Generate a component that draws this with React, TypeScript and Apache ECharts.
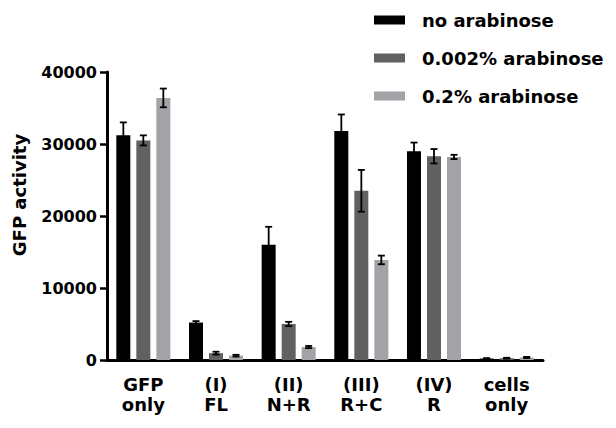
import React, { useEffect, useRef } from "react";
import * as echarts from "echarts";

const categories = ["GFP\nonly", "(I)\nFL", "(II)\nN+R", "(III)\nR+C", "(IV)\nR", "cells\nonly"];
const seriesNames = ["no arabinose", "0.002% arabinose", "0.2% arabinose"];
const noArabinose = [31200, 5200, 16000, 31800, 29000, 200];
const noArabinoseErr = [1800, 200, 2500, 2300, 1200, 60];
const lowArabinose = [30500, 950, 5000, 23500, 28300, 250];
const lowArabinoseErr = [700, 200, 300, 2900, 1000, 60];
const highArabinose = [36400, 600, 1800, 13900, 28200, 350];
const highArabinoseErr = [1300, 120, 150, 600, 300, 80];
const yTicks = [0, 10000, 20000, 30000, 40000];
const colors = ["#000000", "#616161", "#a2a2a7"];

const FONT = "DejaVu Sans";

function errorSeries(values: number[], errs: number[], offset: number) {
  return {
    type: "custom",
    z: 5,
    silent: true,
    data: values.map((v, i) => [i, v, errs[i]]),
    renderItem: (params: any, api: any) => {
      const i = api.value(0);
      const v = api.value(1);
      const e = api.value(2);
      const top = api.coord([i, v + e]);
      const bot = api.coord([i, v - e]);
      const x = top[0] + offset;
      const cap = 3.5;
      const style = { stroke: "#000", lineWidth: 1.8 };
      return {
        type: "group",
        children: [
          { type: "line", shape: { x1: x, y1: top[1], x2: x, y2: bot[1] }, style },
          { type: "line", shape: { x1: x - cap, y1: top[1], x2: x + cap, y2: top[1] }, style },
          { type: "line", shape: { x1: x - cap, y1: bot[1], x2: x + cap, y2: bot[1] }, style },
        ],
      };
    },
  };
}

export default function App() {
  const ref = useRef<HTMLDivElement>(null);
  useEffect(() => {
    if (!ref.current) return;
    const chart = echarts.init(ref.current, undefined, { renderer: "svg" });
    const barBase = {
      type: "bar",
      barWidth: 14,
      barGap: "43%",
    };
    chart.setOption({
      animation: false,
      color: colors,
      grid: { left: 107, right: 73, top: 72, bottom: 68, containLabel: false },
      legend: {
        data: seriesNames,
        orient: "vertical",
        left: 374,
        top: 11,
        padding: 0,
        itemWidth: 31,
        itemHeight: 9,
        itemGap: 20,
        icon: "rect",
        textStyle: {
          fontFamily: FONT,
          fontWeight: "bold",
          fontSize: 18,
          lineHeight: 18,
          color: "#000",
          padding: [0, 0, 0, 12],
        },
      },
      graphic: [
        {
          type: "text",
          x: 19,
          y: 195,
          rotation: Math.PI / 2,
          style: {
            text: "GFP activity",
            font: `bold 18px "${FONT}"`,
            fill: "#000",
            align: "center",
            verticalAlign: "middle",
          },
        },
      ],
      xAxis: {
        type: "category",
        data: categories,
        axisLine: { lineStyle: { color: "#000", width: 3 } },
        axisTick: { show: false },
        axisLabel: {
          color: "#000",
          fontFamily: FONT,
          fontWeight: "bold",
          fontSize: 18,
          lineHeight: 20,
          margin: 14,
          interval: 0,
        },
      },
      yAxis: {
        type: "value",
        min: 0,
        max: 40000,
        interval: 10000,
        splitLine: { show: false },
        axisLine: { show: true, lineStyle: { color: "#000", width: 3 } },
        axisTick: { show: true, length: 7, lineStyle: { color: "#000", width: 2.5 } },
        axisLabel: {
          color: "#000",
          fontFamily: FONT,
          fontWeight: "bold",
          fontSize: 16,
          margin: 10,
          formatter: (v: number) => (yTicks.includes(v) ? String(v) : ""),
        },
      },
      series: [
        { ...barBase, name: seriesNames[0], data: noArabinose },
        { ...barBase, name: seriesNames[1], data: lowArabinose },
        { ...barBase, name: seriesNames[2], data: highArabinose },
        errorSeries(noArabinose, noArabinoseErr, -20),
        errorSeries(lowArabinose, lowArabinoseErr, 0),
        errorSeries(highArabinose, highArabinoseErr, 20),
      ],
    });
    return () => chart.dispose();
  }, []);
  return (
    <div
      ref={ref}
      style={{ position: "fixed", left: 0, top: 0, width: 616, height: 428, background: "#fff" }}
    />
  );
}
